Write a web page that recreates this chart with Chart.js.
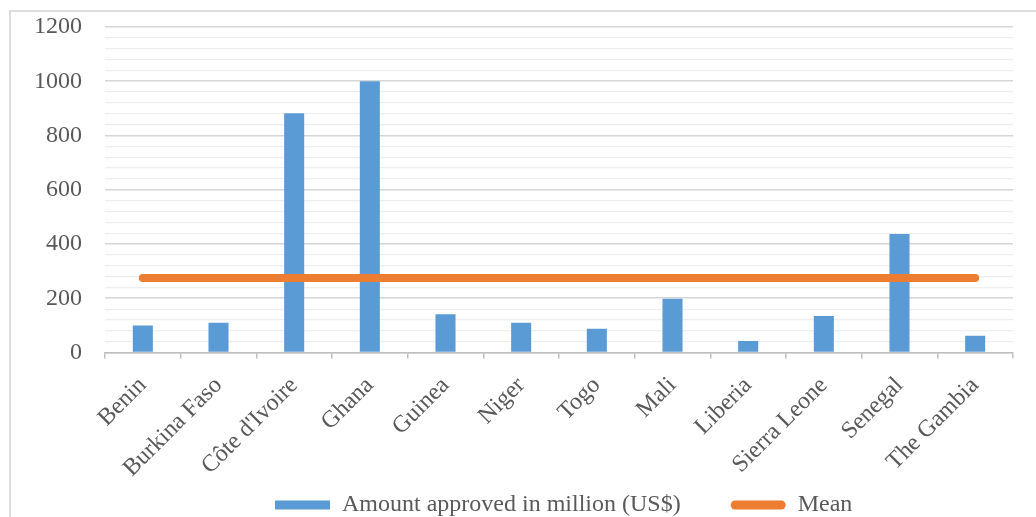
<!DOCTYPE html>
<html>
<head>
<meta charset="utf-8">
<script src="https://cdn.jsdelivr.net/npm/chart.js@4/dist/chart.umd.min.js"></script>
<style>
  html, body { margin: 0; padding: 0; background: #ffffff; }
  #wrap { position: relative; width: 1036px; height: 517px; overflow: hidden; }
  #frame { position: absolute; left: 9px; top: 10px; width: 1100px; height: 600px;
           border-left: 2px solid #dcdcdc; border-top: 2px solid #dcdcdc; box-sizing: border-box; }
  canvas { position: absolute; left: 0; top: 0; }
</style>
</head>
<body>
<div id="wrap">
  <div id="frame"></div>
  <canvas id="c" width="1036" height="517"></canvas>
</div>
<script>
const categories = ["Benin", "Burkina Faso", "Côte d'Ivoire", "Ghana", "Guinea", "Niger", "Togo", "Mali", "Liberia", "Sierra Leone", "Senegal", "The Gambia"];
const amountApproved = [100, 110, 882, 1000, 141, 110, 88, 198, 42, 135, 437, 62];
const meanValues = [275, 275, 275, 275, 275, 275, 275, 275, 275, 275, 275, 275];
const yTickLabels = ["0", "200", "400", "600", "800", "1000", "1200"];
const seriesNames = ["Amount approved in million (US$)", "Mean"];

const FONT = "'Liberation Serif', 'Times New Roman', serif";
const TEXT = "#595959";
const BLUE = "#5b9bd5";
const ORANGE = "#ed7d31";
const LEGEND_PAD = 50;

const legendPlacer = {
  id: 'legendPlacer',
  afterLayout(chart) {
    const lg = chart.legend;
    if (lg) {
      const w = lg.right - lg.left;
      lg.left = 275 - LEGEND_PAD;
      lg.right = lg.left + w;
      const h = lg.bottom - lg.top;
      lg.top = chart.height - h + 10;
      lg.bottom = lg.top + h;
    }
    // let rotated category labels extend below the axis box without being clipped
    if (chart.scales.x) chart.scales.x.bottom = chart.height;
  }
};

new Chart(document.getElementById('c'), {
  type: 'bar',
  plugins: [legendPlacer],
  data: {
    labels: categories,
    datasets: [
      {
        type: 'bar',
        label: seriesNames[0],
        data: amountApproved,
        backgroundColor: BLUE,
        borderWidth: 0,
        barPercentage: 0.265,
        categoryPercentage: 1.0,
        order: 2
      },
      {
        type: 'line',
        label: seriesNames[1],
        data: meanValues,
        borderColor: ORANGE,
        backgroundColor: ORANGE,
        borderWidth: 8,
        borderCapStyle: 'round',
        pointRadius: 0,
        pointHoverRadius: 0,
        fill: false,
        tension: 0,
        order: 1
      }
    ]
  },
  options: {
    responsive: false,
    animation: false,
    devicePixelRatio: 1,
    layout: { padding: { left: 0, right: 23, top: 27, bottom: 0 } },
    plugins: {
      tooltip: { enabled: false },
      legend: {
        display: true,
        position: 'bottom',
        align: 'start',
        labels: {
          font: { family: FONT, size: 24 },
          color: TEXT,
          boxWidth: 55,
          boxHeight: 9,
          padding: LEGEND_PAD,
          useBorderRadius: true,
          generateLabels: (chart) => [
            { text: seriesNames[0], fillStyle: BLUE, strokeStyle: BLUE, lineWidth: 0, datasetIndex: 0, borderRadius: 0, fontColor: TEXT },
            { text: seriesNames[1], fillStyle: ORANGE, strokeStyle: ORANGE, lineWidth: 0, datasetIndex: 1, borderRadius: 4.5, fontColor: TEXT }
          ]
        }
      }
    },
    scales: {
      x: {
        type: 'category',
        offset: true,
        afterFit: (s) => { s.height = 80.5; },
        grid: { display: true, drawOnChartArea: false, drawTicks: true, tickLength: 6, color: '#bfbfbf', lineWidth: 1.5, offset: true },
        border: { display: true, color: '#bfbfbf', width: 1.5 },
        ticks: {
          autoSkip: false,
          minRotation: 45,
          maxRotation: 45,
          padding: 13,
          color: TEXT,
          font: { family: FONT, size: 24 }
        }
      },
      y: {
        min: 0,
        max: 1200,
        afterFit: (s) => { s.width = 105; s.paddingTop = 0; s.paddingBottom = 0; },
        border: { display: false },
        grid: {
          drawTicks: false,
          color: (ctx) => (yTickLabels.includes(String(ctx.tick.value)) ? '#d6d6d6' : '#eeeeee'),
          lineWidth: (ctx) => (yTickLabels.includes(String(ctx.tick.value)) ? 1.6 : 1.2)
        },
        ticks: {
          stepSize: 40,
          autoSkip: false,
          padding: 23,
          color: TEXT,
          font: { family: FONT, size: 24 },
          callback: (v) => (yTickLabels.includes(String(v)) ? String(v) : '')
        }
      }
    }
  }
});
</script>
</body>
</html>
